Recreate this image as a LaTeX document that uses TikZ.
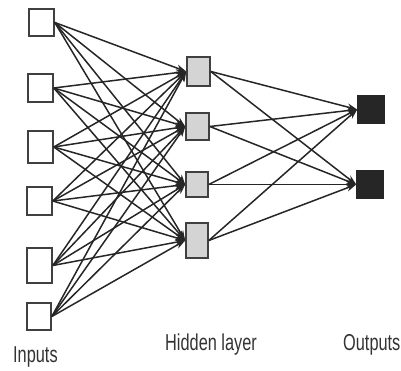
\documentclass[tikz,border=0pt]{standalone}
\usepackage{fontspec}
\setmainfont{Liberation Sans}[FakeStretch=0.71]
\usetikzlibrary{arrows.meta}
\begin{document}
\begin{tikzpicture}[x=1pt,y=-1pt,
  box/.style={draw=black!75, line width=1.6pt, inner sep=0pt, rectangle},
  inbox/.style={box, fill=white},
  hidbox/.style={box, fill=black!17},
  outbox/.style={box, draw=black!85, fill=black!85},
  conn/.style={draw=black!85, line width=1.5pt, -{Stealth[length=10pt,width=7pt]}},
  lbl/.style={anchor=base west, inner sep=0pt, text=black!80, font=\fontsize{23}{23}\selectfont}]
\useasboundingbox (0,0) rectangle (401,371);
% inputs
\node[inbox, minimum width=25pt, minimum height=27pt] (i1) at (41.5,22.5) {};
\node[inbox, minimum width=25pt, minimum height=28pt] (i2) at (40.5,88) {};
\node[inbox, minimum width=25pt, minimum height=32pt] (i3) at (40.5,147) {};
\node[inbox, minimum width=25pt, minimum height=28pt] (i4) at (39.5,201) {};
\node[inbox, minimum width=25pt, minimum height=35pt] (i5) at (39.5,265.5) {};
\node[inbox, minimum width=24pt, minimum height=27pt] (i6) at (39,316.5) {};
% hidden
\node[hidbox, minimum width=23pt, minimum height=29pt] (h1) at (198.5,71.5) {};
\node[hidbox, minimum width=23pt, minimum height=27pt] (h2) at (197.5,126.5) {};
\node[hidbox, minimum width=22pt, minimum height=25pt] (h3) at (197,184.5) {};
\node[hidbox, minimum width=22pt, minimum height=35pt] (h4) at (197,240.5) {};
% outputs
\node[outbox, minimum width=26pt, minimum height=27pt] (o1) at (371,109.5) {};
\node[outbox, minimum width=26pt, minimum height=27pt] (o2) at (370,184.5) {};
% connections
\foreach \i in {1,...,6}
  \foreach \h in {1,...,4}
    \draw[conn] (i\i.east) -- (h\h.west);
\foreach \h in {1,...,4}
  \foreach \o in {1,2}
    \draw[conn] (h\h.east) -- (o\o.west);
% labels
\node[lbl] (li) at (13,362) {Inputs};
\node[lbl] (lh) at (165,350) {Hidden layer};
\node[lbl] (lo) at (343,350) {Outputs};
\end{tikzpicture}
\end{document}
